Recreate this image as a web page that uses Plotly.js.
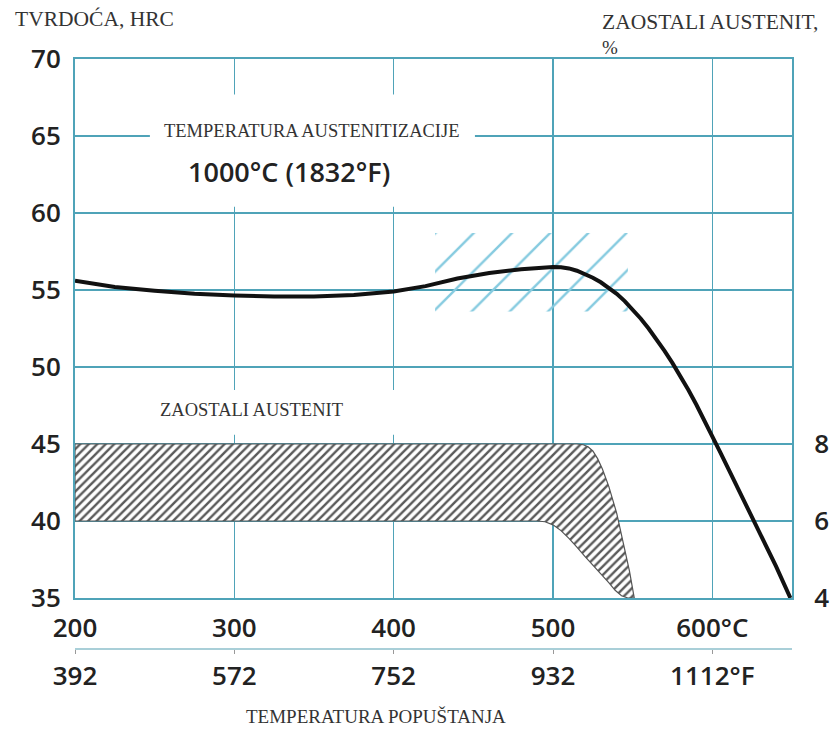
<!DOCTYPE html>
<html>
<head>
<meta charset="utf-8">
<script src="https://cdn.plot.ly/plotly-3.0.1.min.js"></script>
<style>html,body{margin:0;padding:0;background:#fff;}#chart{width:839px;height:731px;}</style>
</head>
<body>
<div id="chart"></div>
<script>
// Tempering temperature, °C, and hardness HRC
const temperC = [200, 225, 250, 275, 300, 325, 350, 375, 400, 420, 440, 460, 480, 490, 500, 505, 510, 515, 520, 525, 530, 535, 540, 545, 550, 555, 560, 565, 570, 575, 580, 585, 590, 595, 600, 605, 610, 620, 630, 640, 649];
const hardnessHRC = [55.6, 55.2, 54.95, 54.75, 54.65, 54.57, 54.57, 54.68, 54.9, 55.25, 55.75, 56.1, 56.35, 56.45, 56.5, 56.48, 56.4, 56.25, 56.05, 55.8, 55.5, 55.15, 54.75, 54.28, 53.75, 53.15, 52.5, 51.8, 51.05, 50.25, 49.4, 48.5, 47.55, 46.55, 45.5, 44.45, 43.4, 41.3, 39.2, 37.05, 35.0];

// Retained austenite band, % (outline: upper edge then lower edge)
const austeniteX = [200, 400, 515, 519, 522, 525, 528, 531, 535, 540, 545, 548, 551, 547, 543, 539, 535, 530, 525, 520, 515, 510, 505, 500, 495, 490, 400, 200, 200];
const austenitePct = [8, 8, 8, 7.98, 7.93, 7.82, 7.62, 7.35, 6.9, 6.2, 5.3, 4.7, 4.0, 4.0, 4.06, 4.2, 4.4, 4.62, 4.85, 5.08, 5.32, 5.55, 5.75, 5.9, 5.98, 6.0, 6.0, 6.0, 8];

// Hardness-after-hardening zone (blue hatch)
const zoneX = [426, 547, 547, 426, 426];
const zoneHRC = [53.6, 53.6, 58.7, 58.7, 53.6];

// Tick values / labels
const hrcTicks = [35, 40, 45, 50, 55, 60, 65, 70];
const celsiusTicks = [200, 300, 400, 500, 600];
const celsiusText = ["200", "300", "400", "500", "600°C"];
const fahrenheitTicks = [392, 572, 752, 932, 1112];
const fahrenheitText = ["392", "572", "752", "932", "1112°F"];
const austeniteTicks = [4, 6, 8];

const xRangeC = [200, 650];
const hrcRange = [35, 70];
const pctRange = [4, 18];
const toF = c => c * 1.8 + 32;

const teal = '#4fa3b8';
const tickFont = {family: 'Open Sans, sans-serif', size: 26, color: '#222', weight: 600};
const serif = 'Liberation Serif, serif';

const traces = [
  {
    x: zoneX, y: zoneHRC, xaxis: 'x', yaxis: 'y',
    type: 'scatter', mode: 'lines', fill: 'toself',
    line: {width: 0, color: 'rgba(0,0,0,0)'},
    fillcolor: 'rgba(0,0,0,0)',
    fillpattern: {shape: '/', fgcolor: '#86cbe0', bgcolor: 'rgba(255,255,255,0)', size: 27, solidity: 0.09},
    hoverinfo: 'skip', showlegend: false
  },
  {
    x: austeniteX, y: austenitePct, xaxis: 'x', yaxis: 'y2',
    type: 'scatter', mode: 'lines', fill: 'toself',
    line: {width: 1.2, color: '#555'},
    fillcolor: 'white',
    fillpattern: {shape: '/', fgcolor: '#5a5a5a', bgcolor: 'white', size: 6, solidity: 0.4},
    hoverinfo: 'skip', showlegend: false
  },
  {
    x: temperC, y: hardnessHRC, xaxis: 'x', yaxis: 'y',
    type: 'scatter', mode: 'lines',
    line: {width: 4, color: '#111'},
    hoverinfo: 'skip', showlegend: false
  },
  {
    x: fahrenheitTicks, y: fahrenheitTicks.map(() => null), xaxis: 'x2', yaxis: 'y',
    type: 'scatter', mode: 'lines', hoverinfo: 'skip', showlegend: false
  }
];

const H = 731, T = 59, B = 0;
const paperH = H - T - B;
const py = p => (H - B - p) / paperH;
const px = p => (p - 75) / 717;

const layout = {
  width: 839, height: 731,
  margin: {l: 75, r: 47, t: T, b: B},
  paper_bgcolor: 'white', plot_bgcolor: 'white',
  showlegend: false,
  xaxis: {
    range: xRangeC, tickvals: celsiusTicks, ticktext: celsiusText,
    showgrid: true, gridcolor: teal, gridwidth: 1.5,
    showline: true, linecolor: teal, linewidth: 2, mirror: true,
    ticks: 'outside', ticklen: 6, tickcolor: 'rgba(0,0,0,0)',
    tickfont: tickFont, zeroline: false, fixedrange: true
  },
  xaxis2: {
    range: xRangeC.map(toF), overlaying: 'x', anchor: 'free', position: py(648),
    tickvals: fahrenheitTicks, ticktext: fahrenheitText,
    showgrid: false, showline: true, linecolor: '#a9cfd8', linewidth: 1.5,
    ticks: 'outside', ticklen: 4, tickcolor: '#999', tickwidth: 1,
    tickfont: tickFont, zeroline: false, fixedrange: true
  },
  yaxis: {
    range: hrcRange, domain: [py(598), 1], tickvals: hrcTicks,
    showgrid: true, gridcolor: teal, gridwidth: 1.5,
    showline: true, linecolor: teal, linewidth: 2, mirror: true,
    ticks: 'outside', ticklen: 7, tickcolor: 'rgba(0,0,0,0)',
    tickfont: tickFont, zeroline: false, fixedrange: true
  },
  yaxis2: {
    range: pctRange, overlaying: 'y', side: 'right', anchor: 'x',
    tickvals: austeniteTicks, showgrid: false, showline: false,
    ticks: 'outside', ticklen: 16, tickcolor: 'rgba(0,0,0,0)',
    tickfont: tickFont, zeroline: false, fixedrange: true
  },
  shapes: [
    {type: 'rect', xref: 'x', yref: 'y', x0: 247, x1: 451, y0: 60.4, y1: 67.7,
     fillcolor: 'white', line: {width: 0}, layer: 'between'},
    {type: 'rect', xref: 'x', yref: 'y', x0: 241, x1: 423, y0: 45.6, y1: 48.5,
     fillcolor: 'white', line: {width: 0}, layer: 'between'}
  ],
  annotations: [
    {text: 'TVRDOĆA, HRC', xref: 'paper', yref: 'paper', x: px(13), y: py(19),
     xanchor: 'left', yanchor: 'middle', showarrow: false,
     font: {family: serif, size: 21.5, color: '#333'}},
    {text: 'ZAOSTALI AUSTENIT,', xref: 'paper', yref: 'paper', x: px(600), y: py(22),
     xanchor: 'left', yanchor: 'middle', showarrow: false,
     font: {family: serif, size: 21.5, color: '#333'}},
    {text: '%', xref: 'paper', yref: 'paper', x: px(600), y: py(47),
     xanchor: 'left', yanchor: 'middle', showarrow: false,
     font: {family: serif, size: 19, color: '#333'}},
    {text: 'TEMPERATURA AUSTENITIZACIJE', xref: 'x', yref: 'y', x: 349, y: 65.3,
     xanchor: 'center', yanchor: 'middle', showarrow: false,
     font: {family: serif, size: 18.5, color: '#333'}},
    {text: '1000°C (1832°F)', xref: 'x', yref: 'y', x: 334.5, y: 62.7,
     xanchor: 'center', yanchor: 'middle', showarrow: false,
     font: {family: 'Open Sans, sans-serif', size: 27, color: '#222', weight: 600}},
    {text: 'ZAOSTALI AUSTENIT', xref: 'x', yref: 'y', x: 311, y: 47.2,
     xanchor: 'center', yanchor: 'middle', showarrow: false,
     font: {family: serif, size: 18.5, color: '#333'}},
    {text: 'TEMPERATURA POPUŠTANJA', xref: 'paper', yref: 'paper', x: px(376), y: py(716),
     xanchor: 'center', yanchor: 'middle', showarrow: false,
     font: {family: serif, size: 19, color: '#333'}}
  ]
};

Plotly.newPlot('chart', traces, layout, {staticPlot: true, displayModeBar: false});
</script>
</body>
</html>
